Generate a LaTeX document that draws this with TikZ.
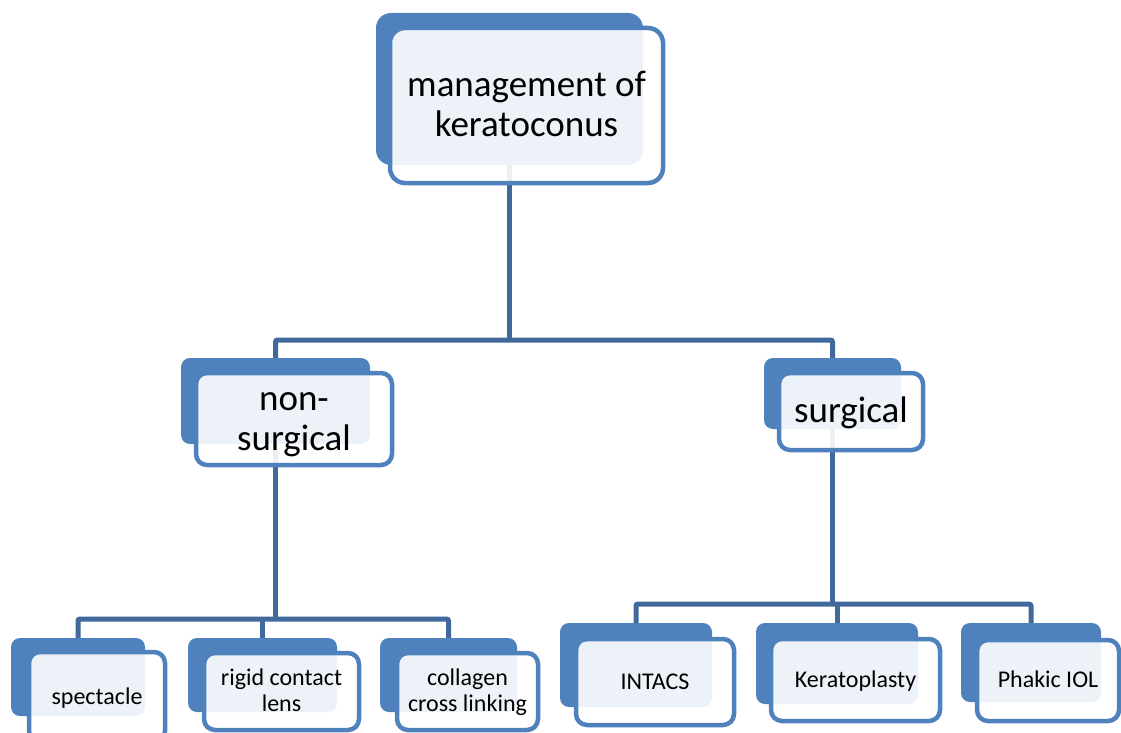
\documentclass[tikz,border=0pt]{standalone}
\usepackage{fontspec}
\setmainfont{Carlito}
\usetikzlibrary{backgrounds}
\definecolor{kblue}{HTML}{4F81BD}
\definecolor{kline}{HTML}{41699C}
\newcommand{\kstrut}{\rule[-0.22\baselineskip]{0pt}{\baselineskip}}
\tikzset{
	backbox/.style={rectangle, rounded corners=9pt, fill=kblue, inner sep=0pt},
	frontbox/.style={rectangle, rounded corners=11pt, draw=kblue, line width=4.5pt, fill=white, fill opacity=0.9, text opacity=1, inner sep=0pt, align=center},
	conn/.style={draw=kline, line width=5pt, rounded corners=2pt},
	bigtext/.style={font=\fontsize{37}{40}\selectfont},
	smalltext/.style={font=\fontsize{24}{26}\selectfont}
}
\begin{document}
\begin{tikzpicture}[x=1pt,y=-1pt]
	\useasboundingbox (0,0) rectangle (1121,733);
	\node[backbox, rounded corners=15pt, minimum width=267pt, minimum height=152pt] (mgmtB) at (509.5,89) {};
	\node[frontbox, rounded corners=15pt, bigtext, minimum width=273pt, minimum height=155pt] (mgmt) at (526.5,105.5) {\kstrut management of\\\kstrut keratoconus};
	\node[backbox, minimum width=189pt, minimum height=86pt] (nonsurgB) at (275.5,401) {};
	\node[frontbox, bigtext, minimum width=196pt, minimum height=92pt] (nonsurg) at (294,419) {\kstrut non-\\\kstrut surgical};
	\node[backbox, minimum width=137pt, minimum height=71pt] (surgB) at (832.5,393.5) {};
	\node[frontbox, bigtext, minimum width=144pt, minimum height=77pt] (surg) at (851,411.5) {\kstrut surgical};
	\node[backbox, minimum width=134pt, minimum height=78pt] (specB) at (78,677) {};
	\node[frontbox, smalltext, minimum width=136pt, minimum height=90pt] (spec) at (97,697) {\kstrut spectacle};
	\node[backbox, minimum width=149pt, minimum height=74pt] (rgpB) at (262.5,675) {};
	\node[frontbox, smalltext, minimum width=155pt, minimum height=77pt] (rgp) at (281.5,691.5) {\kstrut rigid contact\\\kstrut lens};
	\node[backbox, minimum width=137pt, minimum height=74pt] (cxlB) at (448.5,675) {};
	\node[frontbox, smalltext, minimum width=141pt, minimum height=77pt] (cxl) at (467.5,691.5) {\kstrut collagen\\\kstrut cross linking};
	\node[backbox, minimum width=152pt, minimum height=84pt] (intacsB) at (636,665) {};
	\node[frontbox, smalltext, minimum width=158pt, minimum height=86pt] (intacs) at (655,682) {\kstrut INTACS};
	\node[backbox, minimum width=162pt, minimum height=81pt] (kplB) at (837,663.5) {};
	\node[frontbox, smalltext, minimum width=169pt, minimum height=82pt] (kpl) at (855.5,680) {\kstrut Keratoplasty};
	\node[backbox, minimum width=140pt, minimum height=79pt] (iolB) at (1031,662.5) {};
	\node[frontbox, smalltext, minimum width=142pt, minimum height=81pt] (iol) at (1048,680.5) {\kstrut Phakic IOL};
	\coordinate (busTop) at (0,340);
	\coordinate (busLeft) at (0,619);
	\coordinate (busRight) at (0,604);
	\begin{pgfonlayer}{background}
	\draw[conn] (mgmtB.south) -- (mgmtB.south |- busTop);
	\draw[conn] (nonsurgB.north) -- (nonsurgB.north |- busTop) -- (surgB.north |- busTop) -- (surgB.north);
	\draw[conn] (nonsurgB.south) -- (nonsurgB.south |- busLeft);
	\draw[conn] (specB.north) -- (specB.north |- busLeft) -- (cxlB.north |- busLeft) -- (cxlB.north);
	\draw[conn] (rgpB.north) -- (rgpB.north |- busLeft);
	\draw[conn] (surgB.south) -- (surgB.south |- busRight);
	\draw[conn] (intacsB.north) -- (intacsB.north |- busRight) -- (iolB.north |- busRight) -- (iolB.north);
	\draw[conn] (kplB.north) -- (kplB.north |- busRight);
	\end{pgfonlayer}
\end{tikzpicture}
\end{document}
